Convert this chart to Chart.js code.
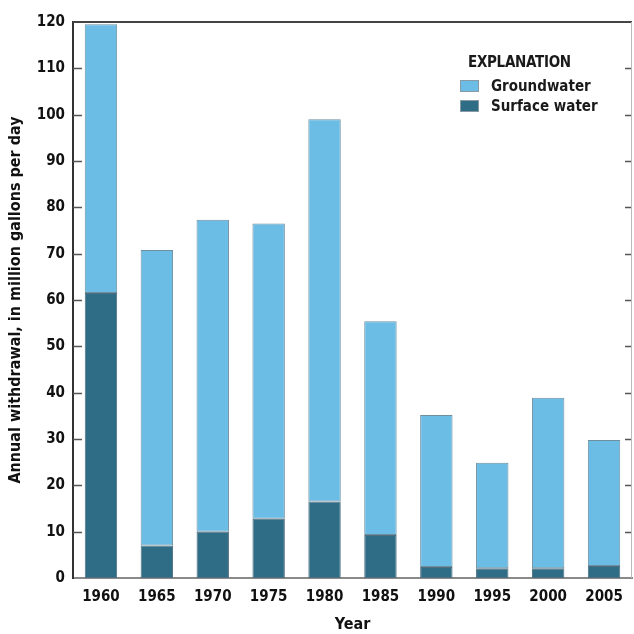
<!DOCTYPE html>
<html>
<head>
<meta charset="utf-8">
<script src="https://cdn.jsdelivr.net/npm/chart.js@4.4.0/dist/chart.umd.min.js"></script>
<style>
  html, body { margin: 0; padding: 0; background: #fff; }
  #wrap { position: relative; width: 634px; height: 634px; }
  .legend {
    position: absolute; left: 460px; top: 53px;
    font-family: "Liberation Sans Narrow", "DejaVu Sans Condensed", sans-serif;
    font-weight: bold; color: #1a1a1a;
  }
  .legend .head { font-size: 15px; margin-left: 8px; line-height: 18px; letter-spacing: -0.3px; }
  .legend .row { display: flex; align-items: center; height: 20px; font-size: 15px; }
  .legend .row.first { margin-top: 5px; }
  .legend .sw { width: 19px; height: 12px; margin-right: 12px; border: 1px solid #8a9aa5; box-sizing: border-box; }
</style>
</head>
<body>
<div id="wrap">
  <canvas id="chart" width="634" height="634"></canvas>
  <div class="legend">
    <div class="head">EXPLANATION</div>
    <div class="row first"><span class="sw" style="background:#6bbde6"></span>Groundwater</div>
    <div class="row"><span class="sw" style="background:#2f6c85"></span>Surface water</div>
  </div>
</div>
<script>
// Data
const years = ['1960', '1965', '1970', '1975', '1980', '1985', '1990', '1995', '2000', '2005'];
const surfaceWater = [61.5, 7, 10, 12.8, 16.5, 9.3, 2.4, 2.1, 2.1, 2.6];
const groundWater = [58, 63.8, 67.3, 63.7, 82.5, 46.1, 32.8, 22.8, 36.8, 27.2];
const yTicks = [0, 10, 20, 30, 40, 50, 60, 70, 80, 90, 100, 110, 120];

const FONT = '"Liberation Sans Narrow", "DejaVu Sans Condensed", sans-serif';

// Draws the frame: top line, right line and the short inward tick marks
const framePlugin = {
  id: 'frame',
  afterDatasetsDraw(chart) {
    const ctx = chart.ctx;
    const area = chart.chartArea;
    const y = chart.scales.y;
    ctx.save();
    ctx.strokeStyle = '#555';
    ctx.lineWidth = 1.5;
    yTicks.forEach(v => {
      if (v === 0 || v === 120) return;
      const py = Math.round(y.getPixelForValue(v)) + 0.5;
      ctx.beginPath();
      ctx.moveTo(area.left, py);
      ctx.lineTo(area.left + 9, py);
      ctx.moveTo(area.right - 7, py);
      ctx.lineTo(area.right, py);
      ctx.stroke();
    });
    // top border
    ctx.strokeStyle = '#444';
    ctx.lineWidth = 2;
    ctx.beginPath();
    ctx.moveTo(area.left, area.top);
    ctx.lineTo(area.right, area.top);
    ctx.stroke();
    // right border
    ctx.strokeStyle = '#bbb';
    ctx.lineWidth = 1;
    ctx.beginPath();
    ctx.moveTo(area.right - 0.5, area.top);
    ctx.lineTo(area.right - 0.5, area.bottom);
    ctx.stroke();
    ctx.restore();
  }
};

new Chart(document.getElementById('chart'), {
  type: 'bar',
  data: {
    labels: years,
    datasets: [
      {
        label: 'Surface water',
        data: surfaceWater,
        backgroundColor: '#2f6c85',
        borderColor: '#4f6f80',
        borderWidth: 1,
        borderSkipped: false
      },
      {
        label: 'Groundwater',
        data: groundWater,
        backgroundColor: '#6bbde6',
        borderColor: '#6f8f9f',
        borderWidth: 1,
        borderSkipped: false
      }
    ]
  },
  options: {
    responsive: false,
    animation: false,
    layout: { padding: { top: 22, right: 2, left: 0, bottom: 0 } },
    datasets: {
      bar: { barPercentage: 0.58, categoryPercentage: 1.0 }
    },
    plugins: {
      legend: { display: false },
      tooltip: { enabled: false }
    },
    scales: {
      x: {
        stacked: true,
        afterFit(scale) { scale.height = 56; },
        grid: { display: false, drawTicks: false },
        border: { display: true, color: '#8a8a8a', width: 2 },
        ticks: {
          padding: 10,
          color: '#111',
          font: { family: FONT, size: 15, weight: 'bold' }
        },
        title: {
          display: true,
          text: 'Year',
          color: '#111',
          padding: { top: 0, bottom: 0 },
          font: { family: FONT, size: 16, weight: 'bold' }
        }
      },
      y: {
        stacked: true,
        min: 0,
        max: 120,
        afterFit(scale) { scale.width = 73; },
        afterBuildTicks(scale) { scale.ticks = yTicks.map(v => ({ value: v })); },
        grid: { display: false, drawTicks: false },
        border: { display: true, color: '#333', width: 2 },
        ticks: {
          padding: 8,
          color: '#111',
          font: { family: FONT, size: 15, weight: 'bold' }
        },
        title: {
          display: true,
          text: 'Annual withdrawal, in million gallons per day',
          color: '#111',
          padding: { top: 6, bottom: 0 },
          font: { family: FONT, size: 16, weight: 'bold' }
        }
      }
    }
  },
  plugins: [framePlugin]
});
</script>
</body>
</html>
